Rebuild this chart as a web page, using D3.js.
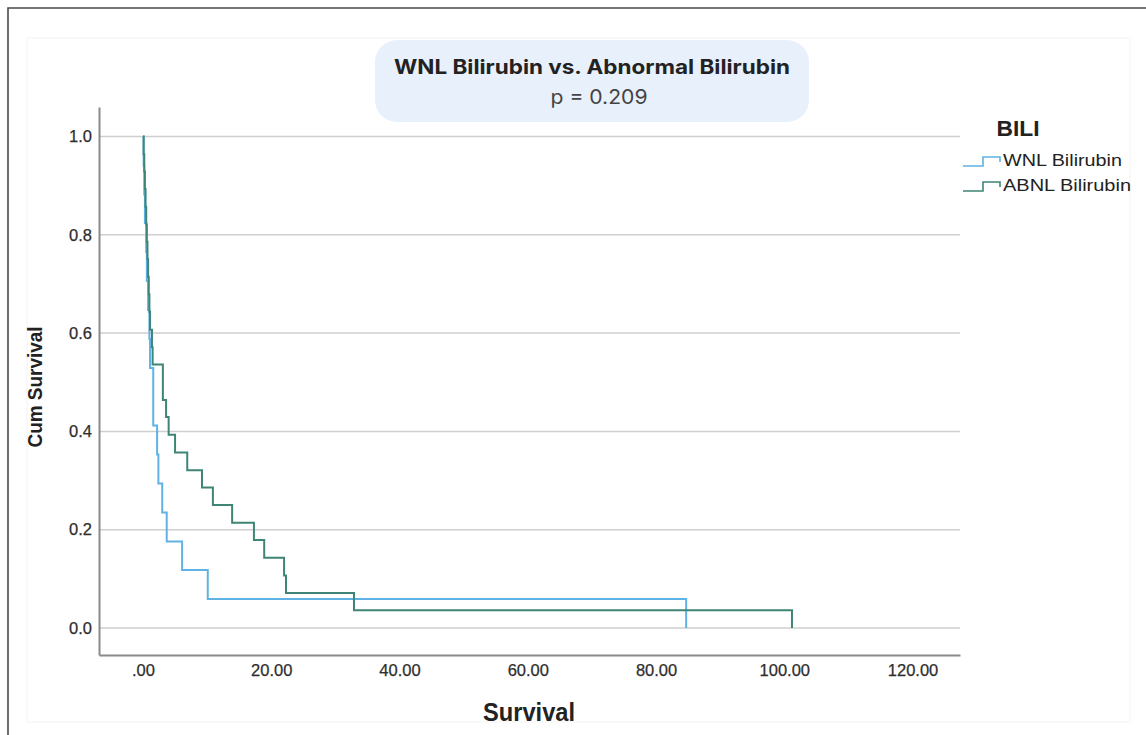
<!DOCTYPE html>
<html>
<head>
<meta charset="utf-8">
<script src="https://cdn.jsdelivr.net/npm/d3@7"></script>
<style>
  body { margin: 0; background: #fff; }
  svg { display: block; }
</style>
</head>
<body>
<div id="chart"></div>
<script>
// Kaplan-Meier step data (time of drop, survival after drop)
const wnlTimes = [0, 0.1, 0.2, 0.3, 0.5, 0.6, 0.8, 1.0, 1.1, 1.6, 2.2, 2.4, 3.0, 3.7, 6.1, 10.1, 84.7];
const wnlSurv  = [1, 0.941, 0.882, 0.824, 0.765, 0.706, 0.647, 0.588, 0.529, 0.412, 0.353, 0.294, 0.235, 0.176, 0.118, 0.059, 0];

const abnlTimes = [0, 0.1, 0.2, 0.3, 0.4, 0.5, 0.6, 0.7, 0.8, 0.9, 1.0, 1.1, 1.4, 1.5, 3.1, 3.6, 4.0, 5.0, 6.9, 9.2, 10.9, 13.9, 17.3, 18.9, 22.0, 22.3, 32.9, 101.2];
const abnlSurv  = [1, 0.964, 0.929, 0.893, 0.857, 0.821, 0.786, 0.750, 0.714, 0.679, 0.643, 0.607, 0.571, 0.536, 0.464, 0.429, 0.393, 0.357, 0.321, 0.286, 0.250, 0.214, 0.179, 0.143, 0.107, 0.071, 0.036, 0];

const groups = ["WNL Bilirubin", "ABNL Bilirubin"];
const colors = ["#5fb3e4", "#3e8576"];
const xTicks = [0, 20, 40, 60, 80, 100, 120];
const yTicks = [0, 0.2, 0.4, 0.6, 0.8, 1.0];

const width = 1146, height = 735;
const sans = "'Liberation Sans', Arial, sans-serif";

const svg = d3.select("#chart").append("svg")
    .attr("width", width)
    .attr("height", height);

// outer frame
svg.append("rect")
    .attr("x", 27).attr("y", 38).attr("width", 1103).attr("height", 684)
    .attr("fill", "none").attr("stroke", "#f3f3f3");
svg.append("path")
    .attr("d", "M8,735 V8 H1146")
    .attr("fill", "none").attr("stroke", "#4a4a4a").attr("stroke-width", 1.6);

// scales
const x = d3.scaleLinear().domain([-6.86, 127.4]).range([99, 960]);
const y = d3.scaleLinear().domain([-0.055, 1.06]).range([655, 107]);

// gridlines
svg.append("g")
  .selectAll("line")
  .data(yTicks)
  .join("line")
    .attr("x1", 99).attr("x2", 960)
    .attr("y1", d => y(d)).attr("y2", d => y(d))
    .attr("stroke", "#cfcfcf").attr("stroke-width", 1.5);

// axes
const xAxis = svg.append("g")
    .attr("transform", `translate(0,${y.range()[0]})`)
    .call(d3.axisBottom(x).tickValues(xTicks).tickSize(0).tickPadding(9)
      .tickFormat(d => d === 0 ? ".00" : d.toFixed(2)));
const yAxis = svg.append("g")
    .attr("transform", `translate(${x.range()[0]},0)`)
    .call(d3.axisLeft(y).tickValues(yTicks).tickSize(0).tickPadding(7)
      .tickFormat(d3.format(".1f")));

[xAxis, yAxis].forEach(g => {
  g.select(".domain").attr("stroke", "#8a8a8a").attr("stroke-width", 2);
  g.attr("font-size", null);
  g.selectAll("text")
    .attr("fill", "#2e2e2e")
    .attr("stroke", "#2e2e2e").attr("stroke-width", 0.25)
    .style("font-family", sans)
    .style("font-size", "16.5px");
});

// axis titles
svg.append("text")
    .attr("x", 529).attr("y", 721)
    .attr("text-anchor", "middle")
    .attr("textLength", 92).attr("lengthAdjust", "spacingAndGlyphs")
    .style("font-family", sans)
    .style("font-weight", "bold").style("font-size", "25px")
    .attr("fill", "#222")
    .text("Survival");
svg.append("text")
    .attr("transform", "translate(42,387) rotate(-90)")
    .attr("text-anchor", "middle")
    .attr("textLength", 121).attr("lengthAdjust", "spacingAndGlyphs")
    .style("font-family", sans)
    .style("font-weight", "bold").style("font-size", "21px")
    .attr("fill", "#222")
    .text("Cum Survival");

// KM curves
const line = d3.line()
    .x(d => x(d[0]))
    .y(d => y(d[1]))
    .curve(d3.curveStepAfter);

const series = [
  d3.zip(wnlTimes, wnlSurv),
  d3.zip(abnlTimes, abnlSurv)
];

series.forEach((pts, i) => {
  svg.append("path")
      .attr("d", line(pts))
      .attr("fill", "none")
      .attr("stroke", colors[i])
      .attr("stroke-width", 2);
});

// title box
svg.append("rect")
    .attr("x", 375).attr("y", 40).attr("width", 434).attr("height", 82)
    .attr("rx", 22)
    .attr("fill", "#e8f0fb");
svg.append("text")
    .attr("x", 592).attr("y", 74)
    .attr("text-anchor", "middle")
    .attr("textLength", 396).attr("lengthAdjust", "spacingAndGlyphs")
    .style("font-family", "Inter, 'Open Sans', sans-serif")
    .style("font-weight", "bold").style("font-size", "20px")
    .attr("fill", "#222")
    .text("WNL Bilirubin vs. Abnormal Bilirubin");
svg.append("text")
    .attr("x", 599).attr("y", 104)
    .attr("text-anchor", "middle")
    .attr("textLength", 97).attr("lengthAdjust", "spacingAndGlyphs")
    .style("font-family", "Inter, 'Open Sans', sans-serif")
    .style("font-size", "20px")
    .attr("fill", "#444")
    .text("p = 0.209");

// legend
svg.append("text")
    .attr("x", 1018).attr("y", 136)
    .attr("text-anchor", "middle")
    .attr("textLength", 43).attr("lengthAdjust", "spacingAndGlyphs")
    .style("font-family", sans)
    .style("font-weight", "bold").style("font-size", "22px")
    .attr("fill", "#222")
    .text("BILI");

const legendWidths = [119, 128];
const legendIcon = d3.line().curve(d3.curveLinear);
groups.forEach((name, i) => {
  const yy = 160 + i * 25;
  svg.append("path")
      .attr("d", legendIcon([[963, yy + 6], [983, yy + 6], [983, yy - 3], [1000, yy - 3], [1000, yy + 2]]))
      .attr("fill", "none")
      .attr("stroke", colors[i])
      .attr("stroke-width", 1.6);
  svg.append("text")
      .attr("x", 1003).attr("y", yy + 6)
      .attr("textLength", legendWidths[i]).attr("lengthAdjust", "spacingAndGlyphs")
      .style("font-family", sans)
      .style("font-size", "17px")
      .attr("fill", "#222")
      .text(name);
});
</script>
</body>
</html>
